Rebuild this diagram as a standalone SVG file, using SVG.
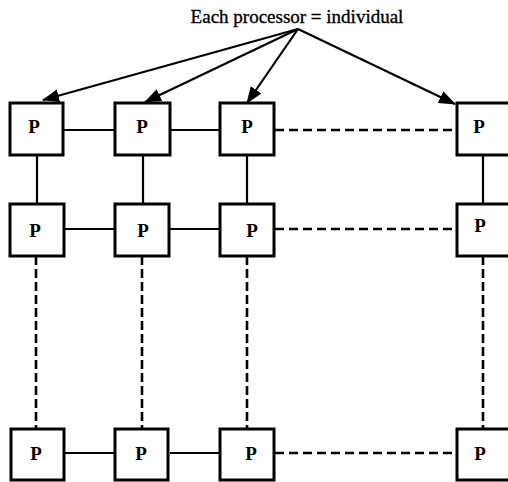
<svg xmlns="http://www.w3.org/2000/svg" width="508" height="482" viewBox="0 0 508 482">
<style>
.box{fill:#fff;stroke:#000;stroke-width:3}
.p{font-family:"Liberation Serif",serif;font-weight:bold;font-size:19px;text-anchor:middle;fill:#000}
.ln{stroke:#000;stroke-width:2.2;fill:none}
.dh{stroke:#000;stroke-width:2.6;fill:none;stroke-dasharray:9 5}
.dv{stroke:#000;stroke-width:2.6;fill:none;stroke-dasharray:9 4}
.ar{stroke:#000;stroke-width:2.2;fill:none;marker-end:url(#ah)}
.title{font-family:"Liberation Serif",serif;font-size:19px;text-anchor:middle;fill:#000;stroke:#000;stroke-width:0.35}
</style>
<defs>
<marker id="ah" markerUnits="userSpaceOnUse" markerWidth="17" markerHeight="13" refX="16" refY="6.5" orient="auto">
<path d="M0,0 L17,6.5 L0,13 Z" fill="#000"/>
</marker>
</defs>
<rect width="508" height="482" fill="#fff"/>
<text class="title" x="297" y="23">Each processor = individual</text>
<g id="connectors">
<line class="ar" x1="298" y1="29" x2="43" y2="100"/>
<line class="ar" x1="298" y1="29" x2="145" y2="102"/>
<line class="ar" x1="298" y1="29" x2="247" y2="103"/>
<line class="ar" x1="298" y1="29" x2="455" y2="104"/>
<line class="ln" x1="64" y1="130" x2="115" y2="130"/>
<line class="ln" x1="170" y1="130" x2="220" y2="130"/>
<line class="dh" x1="275" y1="130" x2="457" y2="130"/>
<line class="ln" x1="64" y1="229" x2="115" y2="229"/>
<line class="ln" x1="170" y1="229" x2="220" y2="229"/>
<line class="dh" x1="275" y1="229" x2="457" y2="229"/>
<line class="ln" x1="64" y1="453" x2="115" y2="453"/>
<line class="ln" x1="170" y1="453" x2="220" y2="453"/>
<line class="dh" x1="275" y1="453" x2="457" y2="453"/>
<line class="ln" x1="37" y1="155" x2="37" y2="204"/>
<line class="ln" x1="143" y1="155" x2="143" y2="204"/>
<line class="ln" x1="247" y1="155" x2="247" y2="204"/>
<line class="ln" x1="483" y1="155" x2="483" y2="204"/>
<line class="dv" x1="36" y1="256" x2="36" y2="429"/>
<line class="dv" x1="142" y1="256" x2="142" y2="429"/>
<line class="dv" x1="247" y1="256" x2="247" y2="429"/>
<line class="dv" x1="483" y1="256" x2="483" y2="429"/>
</g>
<g id="p11"><rect class="box" x="10" y="103" width="53" height="52"/><text class="p" x="34" y="133">P</text></g>
<g id="p12"><rect class="box" x="115" y="103" width="55" height="52"/><text class="p" x="142" y="133">P</text></g>
<g id="p13"><rect class="box" x="220" y="103" width="54" height="52"/><text class="p" x="247" y="133">P</text></g>
<g id="p14"><rect class="box" x="457" y="103" width="54" height="52"/><text class="p" x="479" y="133">P</text></g>
<g id="p21"><rect class="box" x="10" y="204" width="54" height="52"/><text class="p" x="35" y="237">P</text></g>
<g id="p22"><rect class="box" x="115" y="204" width="54" height="52"/><text class="p" x="143" y="237">P</text></g>
<g id="p23"><rect class="box" x="220" y="204" width="54" height="52"/><text class="p" x="252" y="237">P</text></g>
<g id="p24"><rect class="box" x="457" y="204" width="54" height="52"/><text class="p" x="480" y="232">P</text></g>
<g id="p31"><rect class="box" x="11" y="429" width="53" height="51"/><text class="p" x="36" y="460">P</text></g>
<g id="p32"><rect class="box" x="115" y="429" width="53" height="51"/><text class="p" x="141" y="460">P</text></g>
<g id="p33"><rect class="box" x="220" y="429" width="54" height="51"/><text class="p" x="251" y="460">P</text></g>
<g id="p34"><rect class="box" x="457" y="429" width="54" height="51"/><text class="p" x="480" y="460">P</text></g>
</svg>
